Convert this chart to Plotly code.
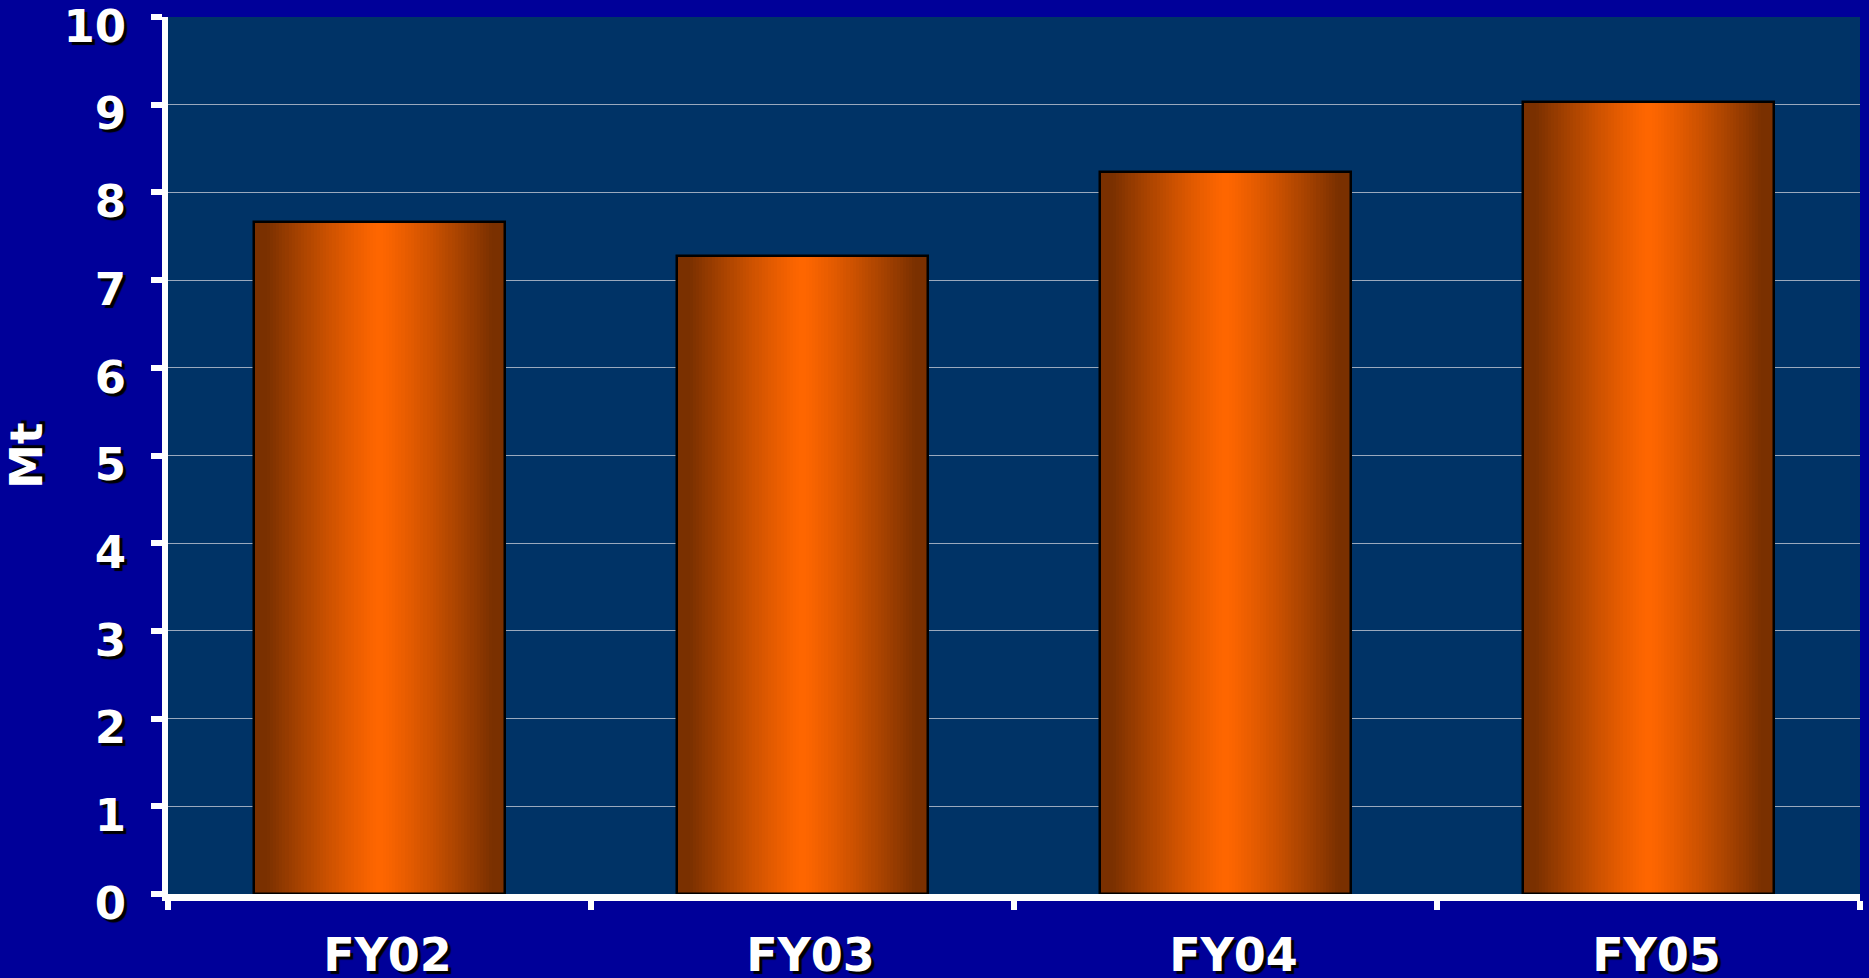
import plotly.graph_objects as go

categories = ["FY02", "FY03", "FY04", "FY05"]
values = [7.66, 7.27, 8.23, 9.03]
y_ticks = [0, 1, 2, 3, 4, 5, 6, 7, 8, 9, 10]
y_title = "Mt"

BAR_W = 0.593
N = 40
orange = (255, 102, 0)
dark = (122, 48, 0)

def lerp(a, b, t):
    return tuple(int(round(a[i] + (b[i] - a[i]) * t)) for i in range(3))

fig = go.Figure()
for k in range(N):
    w = BAR_W * (1 - k / N)
    s = 1 - (k + 0.5) / N  # distance from centre (0) to edge (1)
    t = min(1.0, s / 0.9)
    c = lerp(orange, dark, t ** 1.2)
    fig.add_trace(go.Bar(
        x=categories, y=values, width=w,
        marker=dict(color="rgb(%d,%d,%d)" % c, line=dict(width=0)),
        showlegend=False, hoverinfo="skip"))

fig.add_trace(go.Bar(
    x=categories, y=values, width=BAR_W,
    marker=dict(color="rgba(0,0,0,0)", line=dict(color="black", width=2.5)),
    showlegend=False))

yfont = dict(family="DejaVu Sans", size=45, color="white", weight="bold",
             shadow="3px 3px 1px black")
xfont = dict(family="DejaVu Sans", size=46, color="white", weight="bold",
             shadow="3px 3px 1px black")

fig.update_layout(
    width=1869, height=978,
    margin=dict(l=168, r=9, t=17, b=84, autoexpand=False),
    paper_bgcolor="#000099",
    plot_bgcolor="#003366",
    barmode="overlay",
    bargap=0,
    showlegend=False,
    xaxis=dict(
        type="category",
        automargin=False,
        tickson="boundaries",
        ticks="outside", ticklen=9, tickwidth=6, tickcolor="white",
        showline=True, linecolor="white", linewidth=7,
        showgrid=False,
        tickfont=xfont,
        ticklabelstandoff=15,
        ticklabelshift=8,
        ticklabeloverflow="allow",
        range=[-0.5, 3.5],
    ),
    yaxis=dict(
        range=[0, 10],
        automargin=False,
        tickvals=y_ticks,
        ticks="outside", ticklen=11, tickwidth=6, tickcolor="white",
        showline=True, linecolor="white", linewidth=6,
        showgrid=True, gridcolor="#9aa9bd", gridwidth=1,
        zeroline=False,
        tickfont=yfont,
        ticklabelstandoff=16,
        ticklabelshift=9,
        ticklabeloverflow="allow",
        title=dict(text=y_title, font=dict(family="DejaVu Sans", size=45, color="white",
                                           weight="bold", shadow="3px 3px 1px black"),
                   standoff=10),
    ),
)

fig.write_html("out.html", config={"displayModeBar": False},
               post_script="document.body.style.margin='0';document.body.style.padding='0';")
